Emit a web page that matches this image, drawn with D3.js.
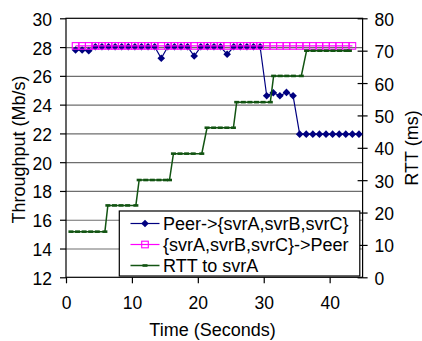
<!DOCTYPE html>
<html><head><meta charset="utf-8">
<script src="https://cdn.jsdelivr.net/npm/d3@7"></script>
<style>
body{margin:0;background:#fff}
svg{display:block}
text{font-family:"Liberation Sans",Arial,sans-serif;fill:#000}
</style></head>
<body>
<svg id="chart" width="422" height="341"></svg>
<script>
// ---- data ----
const seriesNames = ["Peer->{svrA,svrB,svrC}", "{svrA,svrB,svrC}->Peer", "RTT to svrA"];
const peerOutTime = [1.45,2.45,3.45,4.45,5.45,6.45,7.45,8.45,9.45,10.45,11.45,12.45,13.45,14.45,15.45,16.45,17.45,18.45,19.45,20.45,21.45,22.45,23.45,24.45,25.45,26.45,27.45,28.45,29.45,30.45,31.45,32.45,33.45,34.45,35.45,36.45,37.45,38.45,39.45,40.45,41.45,42.45,43.45,44.45];
const peerOutMbps = [27.8,27.8,27.75,28.02,28.02,28.02,28.02,28.02,28.02,28.02,28.02,28.02,28.02,27.22,28.02,28.02,28.02,28.02,27.38,28.02,28.02,28.02,28.02,27.5,28.02,28.02,28.02,28.02,28.02,24.62,24.83,24.62,24.85,24.62,21.95,21.95,21.95,21.95,21.95,21.95,21.95,21.95,21.95,21.95];
const peerInTime = [1.45,2.45,3.45,4.45,5.45,6.45,7.45,8.45,9.45,10.45,11.45,12.45,13.45,14.45,15.45,16.45,17.45,18.45,19.45,20.45,21.45,22.45,23.45,24.45,25.45,26.45,27.45,28.45,29.45,30.45,31.45,32.45,33.45,34.45,35.45,36.45,37.45,38.45,39.45,40.45,41.45,42.45,43.45];
const peerInMbps = [28.08,28.08,28.08,28.08,28.08,28.08,28.08,28.08,28.08,28.08,28.08,28.08,28.08,28.08,28.08,28.08,28.08,28.08,28.08,28.08,28.08,28.08,28.08,28.08,28.08,28.08,28.08,28.08,28.08,28.08,28.08,28.08,28.08,28.08,28.08,28.08,28.08,28.08,28.08,28.08,28.08,28.08,28.08];
const rttTime = [0.75,1.75,2.75,3.75,4.75,5.9, 6.35,7.35,8.35,9.35,10.6, 11.1,12.1,13.1,14.1,15.1,15.7, 16.3,17.3,18.3,19.3,20.6, 21.4,22.4,23.4,24.4,25.4, 25.9,26.9,27.9,28.9,29.9,31.0, 31.5,32.5,33.5,34.5,35.7, 36.5,37.5,38.5,39.5,40.5,41.5,42.5,43.0];
const rttMs = [14.1,14.1,14.1,14.1,14.1,14.1, 22.2,22.2,22.2,22.2,22.2, 30.05,30.05,30.05,30.05,30.05,30.05, 38.2,38.2,38.2,38.2,38.2, 46.2,46.2,46.2,46.2,46.2, 54.1,54.1,54.1,54.1,54.1,54.1, 62.2,62.2,62.2,62.2,62.2, 70,70,70,70,70,70,70,70];
const xTicks = [0,10,20,30,40];
const yLeftTicks = [12,14,16,18,20,22,24,26,28,30];
const yRightTicks = [0,10,20,30,40,50,60,70,80];
const xTitle = "Time (Seconds)";
const yLeftTitle = "Throughput (Mb/s)";
const yRightTitle = "RTT (ms)";

// ---- layout ----
const L = 66, R = 362.6, T = 18.3, B = 277.3;
const colNavy = "#000080", colPink = "#ff00ff", colGreen = "#125412";
const svg = d3.select("#chart");
const x = d3.scaleLinear().domain([0,45]).range([L,R]);
const yL = d3.scaleLinear().domain([12,30]).range([B,T]);
const yR = d3.scaleLinear().domain([0,80]).range([B,T]);

// gridlines
svg.append("g").attr("transform",`translate(${L},0)`)
  .call(d3.axisLeft(yL).tickValues(yLeftTicks.slice(1,-1)).tickSize(-(R-L)).tickFormat(""))
  .call(g=>g.select(".domain").remove())
  .call(g=>g.selectAll("line").attr("stroke","#6e6e6e").attr("stroke-width",1.2));

// plot border
svg.append("rect").attr("x",L).attr("y",T).attr("width",R-L).attr("height",B-T)
  .attr("fill","none").attr("stroke","#000").attr("stroke-width",1.2);

// axes
const fs = "17.5px";
svg.append("g").attr("transform",`translate(${L},0)`)
  .call(d3.axisLeft(yL).tickValues(yLeftTicks).tickSize(6).tickPadding(8))
  .call(g=>g.select(".domain").remove())
  .call(g=>g.selectAll("text").attr("font-size",fs).attr("dy","0.4em").attr("font-family",null))
  .call(g=>g.selectAll("line").attr("stroke-width",1.2));
svg.append("g").attr("transform",`translate(${R},0)`)
  .call(d3.axisRight(yR).tickValues(yRightTicks).tickSize(5).tickPadding(7))
  .call(g=>g.select(".domain").remove())
  .call(g=>g.selectAll(".tick").append("line").attr("x2",-5).attr("stroke","#000"))
  .call(g=>g.selectAll("text").attr("font-size",fs).attr("dy","0.4em").attr("font-family",null))
  .call(g=>g.selectAll("line").attr("stroke-width",1.2));
svg.append("g").attr("transform",`translate(0,${B})`)
  .call(d3.axisBottom(x).tickValues(xTicks).tickSize(6))
  .call(g=>g.select(".domain").remove())
  .call(g=>g.selectAll("text").attr("font-size",fs).attr("y",32).attr("dy",null).attr("font-family",null))
  .call(g=>g.selectAll("line").attr("stroke-width",1.2));

// titles
svg.append("text").attr("x",212.5).attr("y",336).attr("text-anchor","middle").attr("font-size","18px").text(xTitle);
svg.append("text").attr("transform","translate(25,149.5) rotate(-90)").attr("text-anchor","middle").attr("font-size","18px").text(yLeftTitle);
svg.append("text").attr("transform","translate(418,148) rotate(-90)").attr("text-anchor","middle").attr("font-size","18px").text(yRightTitle);

// marker shapes
const diamond = (cx,cy,r)=>`M${cx},${cy-r}L${cx+r},${cy}L${cx},${cy+r}L${cx-r},${cy}Z`;

// series 1: navy
const s1 = peerOutTime.map((t,i)=>[t,peerOutMbps[i]]);
svg.append("path").datum(s1).attr("fill","none").attr("stroke",colNavy).attr("stroke-width",1.2)
  .attr("d",d3.line().x(d=>x(d[0])).y(d=>yL(d[1])));
svg.append("g").selectAll("path").data(s1).join("path")
  .attr("d",d=>diamond(x(d[0]),yL(d[1]),3.8)).attr("fill",colNavy);

// series 2: pink
const s2 = peerInTime.map((t,i)=>[t,peerInMbps[i]]);
svg.append("path").datum(s2).attr("fill","none").attr("stroke",colPink).attr("stroke-width",1.2)
  .attr("d",d3.line().x(d=>x(d[0])).y(d=>yL(d[1])));
svg.append("g").selectAll("rect").data(s2).join("rect")
  .attr("x",d=>x(d[0])-3.3).attr("y",d=>yL(d[1])-3.3).attr("width",6.6).attr("height",6.6)
  .attr("fill","none").attr("stroke",colPink).attr("stroke-width",1.1);

// series 3: RTT (secondary axis)
const s3 = rttTime.map((t,i)=>[t,rttMs[i]]);
svg.append("path").datum(s3).attr("fill","none").attr("stroke",colGreen).attr("stroke-width",1.5)
  .attr("d",d3.line().x(d=>x(d[0])).y(d=>yR(d[1])));
svg.append("g").selectAll("line").data(s3).join("line")
  .attr("x1",d=>x(d[0])-2.5).attr("x2",d=>x(d[0])+2.5)
  .attr("y1",d=>yR(d[1])).attr("y2",d=>yR(d[1]))
  .attr("stroke",colGreen).attr("stroke-width",2.6);

// legend
const lg = svg.append("g");
lg.append("rect").attr("x",119.3).attr("y",211).attr("width",240.5).attr("height",65)
  .attr("fill","#fff").attr("stroke","#000").attr("stroke-width",1.2);
const rowY = [223.5,244.5,265.5];
const lcol = [colNavy,colPink,colGreen];
seriesNames.forEach((name,i)=>{
  const y = rowY[i];
  lg.append("line").attr("x1",130.5).attr("x2",159.5).attr("y1",y).attr("y2",y)
    .attr("stroke",lcol[i]).attr("stroke-width",i===2?1.5:1.2);
  if(i===0) lg.append("path").attr("d",diamond(145,y,3.8)).attr("fill",colNavy);
  if(i===1) lg.append("rect").attr("x",145-3.3).attr("y",y-3.3).attr("width",6.6).attr("height",6.6).attr("fill","none").attr("stroke",colPink).attr("stroke-width",1.1);
  if(i===2) lg.append("line").attr("x1",142.5).attr("x2",147.5).attr("y1",y).attr("y2",y).attr("stroke",colGreen).attr("stroke-width",2.6);
  lg.append("text").attr("x",163).attr("y",y).attr("dy","0.36em").attr("font-size","18px").text(name);
});
</script>
</body></html>
